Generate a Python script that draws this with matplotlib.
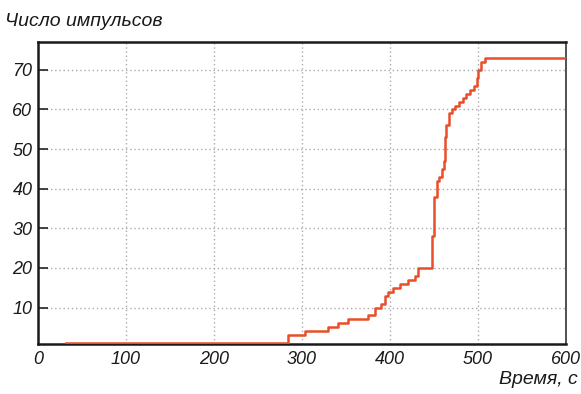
import matplotlib.pyplot as plt
import numpy as np

# moments (s) when pulse count changes, and count after each moment
times = [32, 284, 303, 330, 341, 352, 375, 383, 390, 394, 398, 404, 411, 420, 428, 432,
         448, 450, 453, 456, 459, 462, 463, 464, 467, 471, 474, 478, 483, 487, 491, 495,
         499, 500, 504, 508, 600]
counts = [1, 3, 4, 5, 6, 7, 8, 10, 11, 13, 14, 15, 16, 17, 18, 20,
          28, 38, 42, 43, 45, 47, 53, 56, 59, 60, 61, 62, 63, 64, 65, 66,
          68, 70, 72, 73, 73]
xticks = [0, 100, 200, 300, 400, 500, 600]
yticks = [10, 20, 30, 40, 50, 60, 70]

plt.rcParams['font.family'] = 'Liberation Sans'

fig = plt.figure(figsize=(5.81, 3.94), dpi=100)
ax = fig.add_axes([0.0654, 0.127, 0.9086, 0.766])

ax.step(times, counts, where='post', color='#e84e2a', linewidth=1.8, zorder=3)

ax.set_xlim(0, 600)
ax.set_ylim(0.8, 77)
ax.set_xticks(xticks)
ax.set_yticks(yticks)
ax.set_xticklabels([str(v) for v in xticks], fontsize=13, style='italic', color='#1a1a1a')
ax.set_yticklabels([str(v) for v in yticks], fontsize=13, style='italic', color='#1a1a1a')
ax.tick_params(axis='y', direction='in', length=7, width=1.2, color='#222222', pad=4)
ax.tick_params(axis='x', length=0, pad=5)

ax.grid(True, color='#aaaaaa', linestyle=(0, (1, 2)), linewidth=1.0)
for side in ['left', 'bottom', 'top']:
    ax.spines[side].set_linewidth(1.8)
    ax.spines[side].set_color('#1a1a1a')
ax.spines['right'].set_linewidth(1.2)
ax.spines['right'].set_color('#333333')

fig.text(0.009, 0.935, 'Число импульсов', fontsize=14, style='italic', color='#1a1a1a')
fig.text(0.995, 0.025, 'Время, с', fontsize=14, style='italic', color='#1a1a1a', ha='right')

plt.savefig('out.png', dpi=100)
